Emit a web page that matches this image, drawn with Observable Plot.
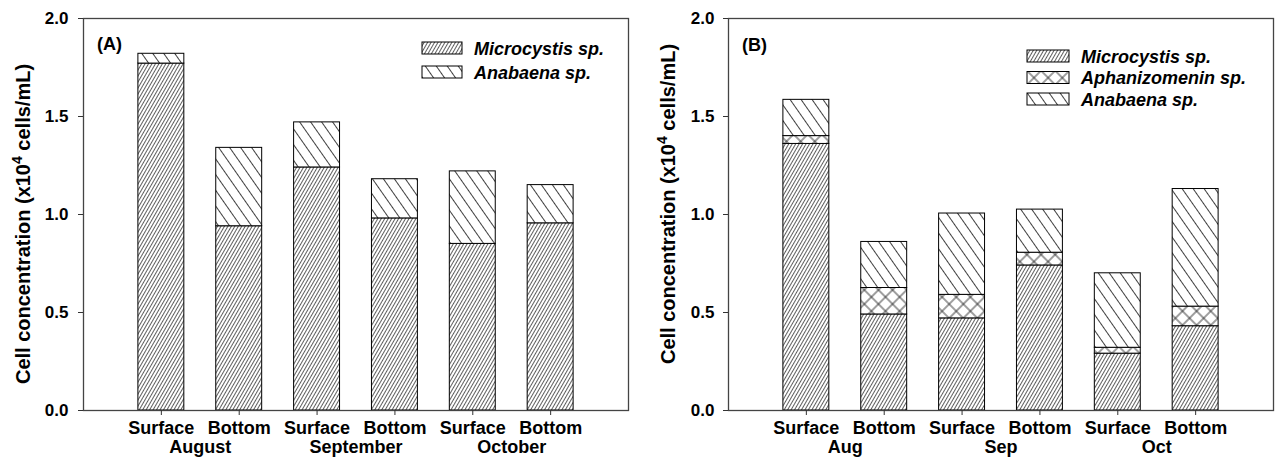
<!DOCTYPE html>
<html><head><meta charset="utf-8">
<script src="https://cdn.jsdelivr.net/npm/d3@7"></script>
<script src="https://cdn.jsdelivr.net/npm/@observablehq/plot@0.6"></script>
<style>
body{margin:0;background:#fff;}
#wrap{display:flex;width:1276px;height:462px;overflow:hidden;}
svg text{font-family:"Liberation Sans",Arial,sans-serif;}
</style></head><body><div id="wrap"></div>
<script>
// ---- data ----
const positions = ["Surface","Bottom","Surface","Bottom","Surface","Bottom"];
const monthsA = ["August","September","October"];
const monthsB = ["Aug","Sep","Oct"];
const speciesA = ["Microcystis sp.","Anabaena sp."];
const speciesB = ["Microcystis sp.","Aphanizomenin sp.","Anabaena sp."];
const microcystisA = [1.77, 0.94, 1.24, 0.98, 0.85, 0.955];
const anabaenaA    = [0.05, 0.40, 0.23, 0.20, 0.37, 0.195];
const microcystisB = [1.36, 0.49, 0.47, 0.74, 0.29, 0.43];
const aphanizomeninB = [0.04, 0.135, 0.12, 0.065, 0.03, 0.10];
const anabaenaB    = [0.185, 0.235, 0.415, 0.22, 0.38, 0.60];
const yTicks = [0, 0.5, 1.0, 1.5, 2.0];
const yTitle = ["Cell concentration (x10", "4", " cells/mL)"];
const panelLabels = ["(A)", "(B)"];

const slug = {"Microcystis sp.":"micro","Aphanizomenin sp.":"aph","Anabaena sp.":"ana"};
const FONT = '"Liberation Sans", Arial, sans-serif';

function addDefs(svg, key) {
  const defs = d3.select(svg).insert("defs", ":first-child");
  const mk = (id, w, rot, cross, sw) => {
    const p = defs.append("pattern").attr("id", key + "-" + id)
      .attr("patternUnits", "userSpaceOnUse").attr("width", w).attr("height", w)
      .attr("patternTransform", `rotate(${rot})`);
    p.append("rect").attr("width", w).attr("height", w).attr("fill", "white");
    p.append("line").attr("x1", w/2).attr("x2", w/2).attr("y1", 0).attr("y2", w)
      .attr("stroke", "#2a2a2a").attr("stroke-width", sw);
    if (cross) p.append("line").attr("y1", w/2).attr("y2", w/2).attr("x1", 0).attr("x2", w)
      .attr("stroke", "#2a2a2a").attr("stroke-width", sw);
  };
  mk("micro", 3, 30, false, 0.75);
  mk("ana", 9, -35, false, 0.9);
  mk("aph", 10, 45, true, 0.9);
}

function panel(cfg) {
  const {key, months, species, values, width, ml, mr, tickPad, titleX, titleY, label, legend} = cfg;
  const cats = positions.map((p, i) => months[Math.floor(i / 2)] + "|" + p);
  const data = [];
  species.forEach((s, si) => values[si].forEach((v, i) =>
    data.push({cat: cats[i], species: s, value: v, fill: `url(#${key}-${slug[s]})`})));
  const padIn = 0.41, padOut = 0.705;
  const step = (width - ml - mr) / (cats.length - padIn + 2 * padOut);
  const chart = Plot.plot({
    width, height: 462,
    marginLeft: ml, marginRight: mr, marginTop: 18, marginBottom: 52,
    style: {fontFamily: FONT, fontSize: "18px", fontWeight: "bold", color: "#000", background: "white", overflow: "visible"},
    x: {type: "band", domain: cats, paddingInner: padIn, paddingOuter: padOut, label: null, round: false},
    y: {domain: [0, 2], label: null},
    color: {type: "identity"},
    marks: [
      Plot.barY(data, {x: "cat", y: "value", z: "species", order: species, fill: "fill", stroke: "#000", strokeWidth: 1}),
      Plot.frame({stroke: "#444", strokeWidth: 1.3}),
      Plot.axisY({ticks: yTicks, tickFormat: d3.format(".1f"), tickSize: 5, tickPadding: tickPad, label: null, stroke: "#333", fontSize: 17}),
      Plot.axisX({tickSize: 5, tickPadding: 6, tickFormat: d => d.split("|")[1], label: null, stroke: "#333", fontSize: 18}),
      Plot.text(months, {x: d => d + "|Surface", dx: step / 2, frameAnchor: "bottom", dy: 42, fontSize: 18, fontWeight: "bold"})
    ]
  });
  addDefs(chart, key);
  const svg = d3.select(chart);
  // y-axis title
  const t = svg.append("text").attr("transform", `translate(${titleX},${titleY}) rotate(-90)`)
    .attr("text-anchor", "middle").attr("font-size", 20).attr("font-weight", "bold").attr("fill", "#000");
  t.append("tspan").text(yTitle[0]);
  t.append("tspan").attr("dy", -8).attr("font-size", 14).text(yTitle[1]);
  t.append("tspan").attr("dy", 8).text(yTitle[2]);
  // panel label
  svg.append("text").attr("x", label.x).attr("y", label.y).attr("text-anchor", "start")
    .attr("font-size", 18).attr("font-weight", "bold").attr("fill", "#000").text(label.text);
  // legend
  species.forEach((s, i) => {
    const cy = legend.rows[i];
    svg.append("rect").attr("x", legend.x).attr("y", cy - 6).attr("width", legend.w).attr("height", 12)
      .attr("fill", `url(#${key}-${slug[s]})`).attr("stroke", "#000").attr("stroke-width", 1);
    svg.append("text").attr("x", legend.x + legend.w + 12).attr("y", cy + 6.5).attr("text-anchor", "start")
      .attr("font-size", 18).attr("font-weight", "bold").attr("font-style", "italic").attr("fill", "#000").text(s);
  });
  return chart;
}

const wrap = document.getElementById("wrap");
wrap.append(panel({
  key: "A", months: monthsA, species: speciesA, values: [microcystisA, anabaenaA],
  width: 638, ml: 83, mr: 10, tickPad: 10, titleX: 30, titleY: 224,
  label: {x: 97, y: 50, text: panelLabels[0]},
  legend: {x: 422, w: 40, rows: [48, 72]}
}));
wrap.append(panel({
  key: "B", months: monthsB, species: speciesB, values: [microcystisB, aphanizomeninB, anabaenaB],
  width: 638, ml: 90, mr: 3, tickPad: 9, titleX: 37, titleY: 204,
  label: {x: 104, y: 51, text: panelLabels[1]},
  legend: {x: 389, w: 42, rows: [56, 77.5, 99]}
}));
</script></body></html>
